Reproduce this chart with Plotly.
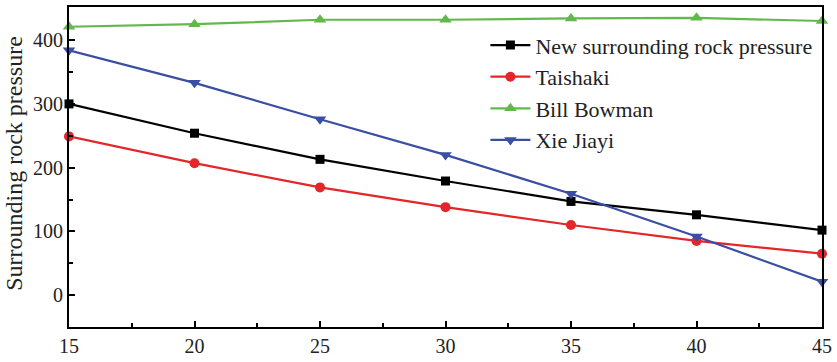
import plotly.graph_objects as go

x_vals = [15, 20, 25, 30, 35, 40, 45]
new_pressure = [300, 254, 213, 179, 147, 126, 102]
taishaki = [249, 207, 169, 138, 110, 85, 65]
bill_bowman = [421, 425, 432, 432, 434, 435, 430]
xie_jiayi = [384, 333, 276, 220, 159, 92, 21]
y_title = "Surrounding rock pressure"

series = [
    ("New surrounding rock pressure", new_pressure, "#000000", "square", 9),
    ("Taishaki", taishaki, "#e3262a", "circle", 10),
    ("Bill Bowman", bill_bowman, "#63b84b", "triangle-up", 11),
    ("Xie Jiayi", xie_jiayi, "#3a4ea3", "triangle-down", 11),
]

fig = go.Figure()
for name, vals, color, sym, sz in series:
    fig.add_trace(go.Scatter(
        x=x_vals, y=vals, name=name, mode="lines+markers",
        line=dict(color=color, width=2.2),
        marker=dict(symbol=sym, size=sz, color=color),
        cliponaxis=False,
    ))

font = "Liberation Serif"
fig.add_annotation(
    text=y_title, textangle=-90, xref="paper", yref="paper",
    x=-0.073, y=0.51, xanchor="center", yanchor="middle", showarrow=False,
    font=dict(size=24, family=font, color="#222"),
)
fig.update_layout(
    width=837, height=362,
    margin=dict(l=69, r=11, t=5, b=28),
    paper_bgcolor="white", plot_bgcolor="white",
    font=dict(family=font, size=20, color="#222"),
    showlegend=True,
    legend=dict(
        x=0.553, y=0.946, xanchor="left", yanchor="top",
        bgcolor="rgba(255,255,255,0)", font=dict(size=22, family=font, color="#222"),
        tracegroupgap=0, itemwidth=40,
    ),
    xaxis=dict(
        range=[15, 45], tickvals=[15, 20, 25, 30, 35, 40, 45],
        ticks="inside", ticklen=6, tickwidth=1.5, tickcolor="#000",
        minor=dict(tickvals=[17.5, 22.5, 27.5, 32.5, 37.5, 42.5], ticks="inside", ticklen=4, tickcolor="#000"),
        showline=True, linecolor="#000", linewidth=2, mirror=True,
        showgrid=False, zeroline=False,
        tickfont=dict(size=20, family=font),
    ),
    yaxis=dict(
        range=[-50, 452], tickvals=[0, 100, 200, 300, 400],
        ticks="inside", ticklen=6, tickwidth=1.5, tickcolor="#000",
        minor=dict(tickvals=[50, 150, 250, 350], ticks="inside", ticklen=4, tickcolor="#000"),
        showline=True, linecolor="#000", linewidth=2, mirror=True,
        showgrid=False, zeroline=False,
        tickfont=dict(size=20, family=font),
    ),
)

fig.write_html("out.html")
